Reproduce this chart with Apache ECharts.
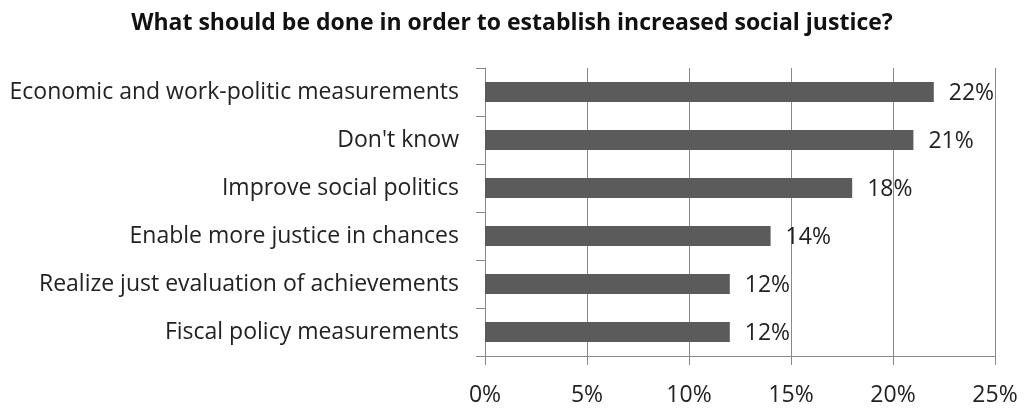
<!DOCTYPE html>
<html>
<head>
<meta charset="utf-8">
<script src="https://cdn.jsdelivr.net/npm/echarts@6/dist/echarts.min.js"></script>
<style>
  html, body { margin: 0; padding: 0; background: #fff; }
  #chart { width: 1024px; height: 411px; }
</style>
</head>
<body>
<div id="chart"></div>
<script>
// Survey answers, listed bottom-to-top as the category axis draws them
const categories = [
  'Fiscal policy measurements',
  'Realize just evaluation of achievements',
  'Enable more justice in chances',
  'Improve social politics',
  "Don't know",
  'Economic and work-politic measurements'
];
const shares = [12, 12, 14, 18, 21, 22];
const xTicks = [0, 5, 10, 15, 20, 25];

const FONT = 'Open Sans, Liberation Sans, sans-serif';
const chart = echarts.init(document.getElementById('chart'));

chart.setOption({
  animation: false,
  backgroundColor: '#ffffff',
  title: {
    text: 'What should be done in order to establish increased social justice?',
    left: 'center',
    top: 7,
    textStyle: { fontFamily: FONT, fontSize: 23, fontWeight: 'bold', color: '#111' }
  },
  grid: { left: 485, right: 29, top: 68, bottom: 55, containLabel: false },
  xAxis: {
    type: 'value',
    min: xTicks[0],
    max: xTicks[xTicks.length - 1],
    interval: 5,
    axisLine: { show: true, lineStyle: { color: '#888', width: 1 } },
    axisTick: { show: true, length: 9, lineStyle: { color: '#888' } },
    splitLine: { show: true, lineStyle: { color: '#888', width: 1 } },
    axisLabel: {
      margin: 28,
      formatter: v => v + '%',
      fontFamily: FONT, fontSize: 23, color: '#222'
    }
  },
  yAxis: {
    type: 'category',
    data: categories,
    axisLine: { show: true, lineStyle: { color: '#888', width: 1 } },
    axisTick: { show: true, length: 9, inside: false, lineStyle: { color: '#888' } },
    axisLabel: { margin: 26, fontFamily: FONT, fontSize: 23, color: '#222' }
  },
  series: [{
    type: 'bar',
    data: shares,
    barWidth: 20,
    itemStyle: { color: '#5b5b5b' },
    label: {
      show: true,
      position: 'right',
      distance: 15,
      formatter: p => p.value + '%',
      fontFamily: FONT, fontSize: 23, color: '#222',
      offset: [0, 1]
    }
  }]
});
</script>
</body>
</html>
